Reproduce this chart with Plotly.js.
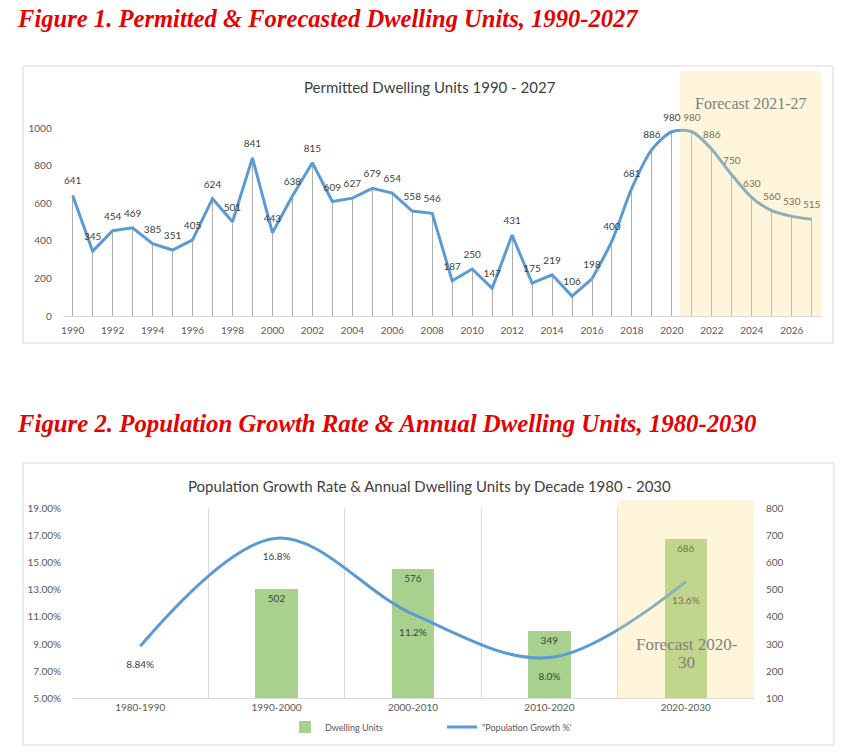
<!DOCTYPE html>
<html>
<head>
<meta charset="utf-8">
<script src="https://cdn.plot.ly/plotly-3.0.1.min.js"></script>
<style>html,body{margin:0;padding:0;background:#fff;}#chart{width:850px;height:756px;}</style>
</head>
<body>
<div id="chart"></div>
<script>
// ---- Figure 1 data ----
const years = [1990,1991,1992,1993,1994,1995,1996,1997,1998,1999,2000,2001,2002,2003,2004,2005,2006,2007,2008,2009,2010,2011,2012,2013,2014,2015,2016,2017,2018,2019,2020,2021,2022,2023,2024,2025,2026,2027];
const permits = [641,345,454,469,385,351,405,624,501,841,443,638,815,609,627,679,654,558,546,187,250,147,431,175,219,106,198,400,681,886,980,980,886,750,630,560,530,515];
const splitYear = 2016;

// ---- Figure 2 data ----
const decades = ["1980-1990","1990-2000","2000-2010","2010-2020","2020-2030"];
const dwellingUnits = [null,502,576,349,686];
const dwellingLabels = ["","502","576","349","686"];
const growthRate = [0.0884,0.168,0.112,0.080,0.136];
const growthLabels = ["8.84%","16.8%","11.2%","8.0%","13.6%"];

const H = 756, W = 850;
const py = p => 1 - p / H;
const px = p => p / W;

const i0 = years.indexOf(splitYear);
const yrA = years.slice(0, i0 + 1), vA = permits.slice(0, i0 + 1);
const yrB = years.slice(i0), vB = permits.slice(i0);

const lblFont = {family: "Lato, 'Liberation Sans', sans-serif", size: 10, color: "#404040"};
const tickFont = {family: "Lato, 'Liberation Sans', sans-serif", size: 10, color: "#595959"};
const hiddenMarker = s => ({size: s, color: "rgba(0,0,0,0)"});

const traces = [
  {type: "bar", x: years, y: permits, width: 0.05, marker: {color: "#ADADAD"},
   xaxis: "x", yaxis: "y", showlegend: false, hoverinfo: "skip"},
  {type: "scatter", mode: "lines", x: yrA, y: vA,
   line: {color: "#5B9BD5", width: 3}, xaxis: "x", yaxis: "y", showlegend: false},
  {type: "scatter", mode: "lines", x: yrB, y: vB,
   line: {color: "#5B9BD5", width: 3, shape: "spline", smoothing: 0.8}, xaxis: "x", yaxis: "y", showlegend: false},
  {type: "scatter", mode: "markers+text", x: years, y: permits, text: permits.map(String),
   textposition: "top center", textfont: lblFont, cliponaxis: false, marker: hiddenMarker(12),
   xaxis: "x", yaxis: "y", showlegend: false},
  {type: "bar", x: decades, y: dwellingUnits, text: dwellingLabels, name: "Dwelling Units",
   textposition: "inside", insidetextanchor: "end", textfont: lblFont, width: 0.31,
   marker: {color: "#A9D18E"}, xaxis: "x2", yaxis: "y2"},
  {type: "scatter", mode: "lines", x: decades, y: growthRate,
   name: "\"Population Growth %'", cliponaxis: false,
   line: {color: "#5B9BD5", width: 3, shape: "spline", smoothing: 1}, xaxis: "x2", yaxis: "y3"},
  {type: "scatter", mode: "markers+text", x: decades, y: growthRate, text: growthLabels,
   textposition: "bottom center", textfont: lblFont, cliponaxis: false, marker: hiddenMarker(22),
   xaxis: "x2", yaxis: "y3", showlegend: false}
];

const layout = {
  width: W, height: H,
  margin: {l: 0, r: 0, t: 0, b: 0},
  paper_bgcolor: "#ffffff", plot_bgcolor: "rgba(0,0,0,0)",
  font: {family: "Lato, 'Liberation Sans', sans-serif", color: "#595959"},
  bargap: 0,
  xaxis: {domain: [px(62.7), px(821.7)], range: [1989.5, 2027.5], tick0: 1990, dtick: 2,
    showgrid: false, zeroline: false, showline: true, linecolor: "#D9D9D9", linewidth: 1,
    ticks: "outside", ticklen: 5, tickcolor: "rgba(0,0,0,0)", tickfont: tickFont, anchor: "y"},
  yaxis: {domain: [py(316), py(128)], range: [0, 1000], dtick: 200, showgrid: false, zeroline: false,
    showline: false, ticks: "outside", ticklen: 8, tickcolor: "rgba(0,0,0,0)", tickfont: tickFont, anchor: "x"},
  xaxis2: {domain: [px(72), px(754)], type: "category", categoryarray: decades, range: [-0.5, 4.5],
    tickson: "boundaries", showgrid: true, gridcolor: "#D9D9D9", gridwidth: 1, zeroline: false,
    showline: true, linecolor: "#D9D9D9", ticks: "outside", ticklen: 5, tickcolor: "rgba(0,0,0,0)",
    tickfont: tickFont, anchor: "y2"},
  yaxis2: {domain: [py(698.3), py(508.3)], range: [100, 800], dtick: 100, side: "right", anchor: "x2",
    showgrid: false, zeroline: false, showline: false, ticks: "outside", ticklen: 9,
    tickcolor: "rgba(0,0,0,0)", tickfont: tickFont},
  yaxis3: {domain: [py(698.3), py(508.3)], range: [0.05, 0.19], tick0: 0.05, dtick: 0.02, tickformat: ".2%",
    overlaying: "y2", side: "left", anchor: "x2", showgrid: false, zeroline: false, showline: false,
    ticks: "outside", ticklen: 8, tickcolor: "rgba(0,0,0,0)", tickfont: tickFont},
  legend: {orientation: "h", x: px(442), xanchor: "center", y: py(727), yanchor: "middle",
    font: {family: "Lato, 'Liberation Sans', sans-serif", size: 9, color: "#595959"},
    bgcolor: "rgba(0,0,0,0)", traceorder: "normal", entrywidth: 112},
  shapes: [
    {type: "rect", xref: "paper", yref: "paper", x0: px(23), x1: px(833), y0: py(343), y1: py(66),
     line: {color: "#D9D9D9", width: 1}, fillcolor: "rgba(0,0,0,0)", layer: "below"},
    {type: "rect", xref: "paper", yref: "paper", x0: px(23), x1: px(834), y0: py(745), y1: py(463),
     line: {color: "#D9D9D9", width: 1}, fillcolor: "rgba(0,0,0,0)", layer: "below"},
    {type: "rect", xref: "x", yref: "paper", x0: 2020.4, x1: 2027.5, y0: py(316), y1: py(70.7),
     line: {width: 0}, fillcolor: "#FCDE87", opacity: 0.3, layer: "above"},
    {type: "rect", xref: "x2", yref: "paper", x0: 3.5, x1: 4.5, y0: py(698.3), y1: py(500),
     line: {width: 0}, fillcolor: "#FCDE87", opacity: 0.3, layer: "above"}
  ],
  annotations: [
    {text: "Figure 1. Permitted &amp; Forecasted Dwelling Units, 1990-2027", xref: "paper", yref: "paper",
     x: px(15), y: py(19), xanchor: "left", yanchor: "middle", showarrow: false,
     font: {family: "'Liberation Serif', 'Times New Roman', serif", size: 24.6, color: "#E60000", weight: "bold", style: "italic"}},
    {text: "Figure 2. Population Growth Rate &amp; Annual Dwelling Units, 1980-2030", xref: "paper", yref: "paper",
     x: px(15), y: py(423), xanchor: "left", yanchor: "middle", showarrow: false,
     font: {family: "'Liberation Serif', 'Times New Roman', serif", size: 24.8, color: "#E60000", weight: "bold", style: "italic"}},
    {text: "Permitted Dwelling Units 1990 - 2027", xref: "paper", yref: "paper", x: px(430), y: py(87),
     xanchor: "center", yanchor: "middle", showarrow: false,
     font: {family: "Lato, 'Liberation Sans', sans-serif", size: 15, color: "#404040"}},
    {text: "Population Growth Rate &amp; Annual Dwelling Units by Decade 1980 - 2030", xref: "paper", yref: "paper",
     x: px(429), y: py(486), xanchor: "center", yanchor: "middle", showarrow: false,
     font: {family: "Lato, 'Liberation Sans', sans-serif", size: 15, color: "#404040"}},
    {text: "Forecast 2021-27", xref: "paper", yref: "paper", x: px(751), y: py(103),
     xanchor: "center", yanchor: "middle", showarrow: false,
     font: {family: "'Liberation Serif', 'Times New Roman', serif", size: 16, color: "#7F7F7F"}},
    {text: "Forecast 2020-", xref: "paper", yref: "paper", x: px(686.5), y: py(644),
     xanchor: "center", yanchor: "middle", showarrow: false,
     font: {family: "'Liberation Serif', 'Times New Roman', serif", size: 17, color: "#7F7F7F"}},
    {text: "30", xref: "paper", yref: "paper", x: px(686.5), y: py(662),
     xanchor: "center", yanchor: "middle", showarrow: false,
     font: {family: "'Liberation Serif', 'Times New Roman', serif", size: 17, color: "#7F7F7F"}}
  ]
};

Plotly.newPlot("chart", traces, layout, {displayModeBar: false, staticPlot: true});
</script>
</body>
</html>
